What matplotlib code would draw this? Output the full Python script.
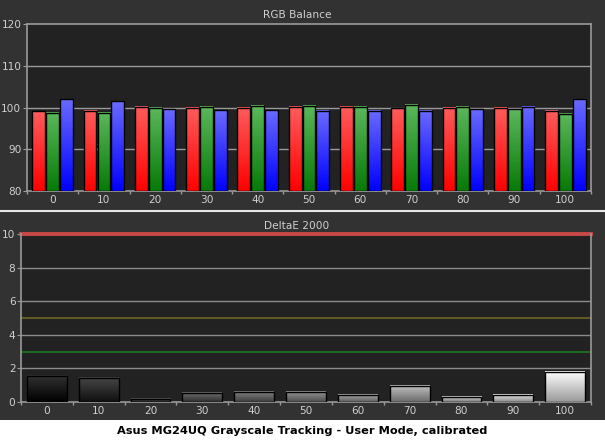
import numpy as np
import matplotlib
matplotlib.use("Agg")
import matplotlib.pyplot as plt
from matplotlib.colors import LinearSegmentedColormap

levels = ["0", "10", "20", "30", "40", "50", "60", "70", "80", "90", "100"]
red_vals = [99.1, 99.2, 100.2, 100.0, 100.0, 100.2, 100.2, 99.8, 100.0, 100.0, 99.2]
green_vals = [98.8, 98.7, 100.0, 100.2, 100.4, 100.4, 100.2, 100.7, 100.2, 99.6, 98.5]
blue_vals = [102.0, 101.5, 99.6, 99.3, 99.3, 99.2, 99.2, 99.2, 99.6, 100.2, 102.0]
delta_e = [1.57, 1.45, 0.20, 0.56, 0.62, 0.62, 0.44, 0.97, 0.32, 0.44, 1.79]
ref_lines = [(10, "#c84848", 2.8), (5, "#6e6424", 1.2), (3, "#1c7f1c", 1.1)]

title_top = "RGB Balance"
title_bottom = "DeltaE 2000"
caption = "Asus MG24UQ Grayscale Tracking - User Mode, calibrated"

FIG_BG = "#323232"
AX_BG = "#222222"
GRID = "#9a9a9a"
TXT = "#cfcfcf"
FS = 7.6

fig = plt.figure(figsize=(6.05, 4.41), dpi=100)
fig.patch.set_facecolor(FIG_BG)

# white caption strip and separator
fig.patches.append(plt.Rectangle((0, 0), 1, 21 / 441, transform=fig.transFigure,
                                 facecolor="white", edgecolor="none", zorder=0))
fig.lines.append(plt.Line2D([0, 1], [230.5 / 441, 230.5 / 441], transform=fig.transFigure,
                            color="#e8e8e8", lw=1.5))


def grad_bar(ax, x0, x1, y0, y1, c_bottom, c_top):
    cmap = LinearSegmentedColormap.from_list("g", [c_bottom, c_top])
    arr = np.linspace(0, 1, 256).reshape(-1, 1)
    ax.imshow(arr, cmap=cmap, origin="lower", aspect="auto",
              extent=(x0, x1, y0, y1), zorder=3, interpolation="nearest")
    ax.add_patch(plt.Rectangle((x0, y0), x1 - x0, y1 - y0, facecolor="none",
                               edgecolor="black", lw=1.0, zorder=4))


def style_axes(ax, ylim, yticks):
    ax.set_facecolor(AX_BG)
    ax.set_xlim(-0.5, len(levels) - 0.5)
    ax.set_ylim(*ylim)
    ax.set_yticks(yticks)
    ax.set_xticks(range(len(levels)))
    ax.set_xticklabels(levels)
    ax.set_xticks(np.arange(-0.5, len(levels), 1.0), minor=True)
    ax.tick_params(axis="x", which="major", length=0, pad=3, labelsize=FS, colors=TXT)
    ax.tick_params(axis="x", which="minor", length=2.5, direction="out", color=GRID, width=1)
    ax.tick_params(axis="y", length=3, pad=1, labelsize=FS, colors=TXT, color=GRID)
    for s in ax.spines.values():
        s.set_color(GRID)
        s.set_linewidth(1.2)


# ---------- top: RGB balance ----------
ax1 = fig.add_axes([27 / 605, 250 / 441, 564 / 605, 167 / 441])
style_axes(ax1, (80, 120), [80, 90, 100, 110, 120])
for yv in [90, 100, 110]:
    ax1.axhline(yv, color=GRID, lw=1.0, zorder=1)
bw = 0.25
offs = [-0.27, 0.0, 0.27]
series = [
    (red_vals, "#ff0000", "#ff5c5c"),
    (green_vals, "#067a06", "#5cb85c"),
    (blue_vals, "#0000ff", "#6a6aff"),
]
ymin = ax1.get_ylim()[0]
for (vals, cb, ct), off in zip(series, offs):
    for i, v in enumerate(vals):
        grad_bar(ax1, i + off - bw / 2, i + off + bw / 2, ymin, v, cb, ct)
ax1.set_xlim(-0.5, len(levels) - 0.5)
ax1.set_ylim(80, 120)
fig.text(297 / 605, 1 - 15 / 441, title_top, color=TXT, fontsize=FS, ha="center", va="center")

# ---------- bottom: DeltaE ----------
ax2 = fig.add_axes([21 / 605, 39 / 441, 570 / 605, 168 / 441])
style_axes(ax2, (0, 10), [0, 2, 4, 6, 8, 10])
ax2.spines["top"].set_visible(False)
for yv in [2, 4, 6, 8]:
    ax2.axhline(yv, color="#8c8c8c", lw=1.0, zorder=1)
for yv, col, lw in ref_lines:
    ax2.axhline(yv, color=col, lw=lw, zorder=2, clip_on=False)
bw2 = 0.77
for i, v in enumerate(delta_e):
    L = i / (len(levels) - 1)
    top = 0.2 + 0.8 * L
    bot = 0.6 * L
    grad_bar(ax2, i - bw2 / 2, i + bw2 / 2, 0, v, (bot, bot, bot), (top, top, top))
ax2.set_xlim(-0.5, len(levels) - 0.5)
ax2.set_ylim(0, 10)
fig.text(297 / 605, 1 - 226 / 441, title_bottom, color=TXT, fontsize=FS, ha="center", va="center")

fig.text(302.5 / 605, 1 - 431 / 441, caption, color="black", fontsize=8.2,
         fontweight="bold", ha="center", va="center", family=["DejaVu Sans"])

fig.savefig("out.png", dpi=100, facecolor=fig.get_facecolor())
